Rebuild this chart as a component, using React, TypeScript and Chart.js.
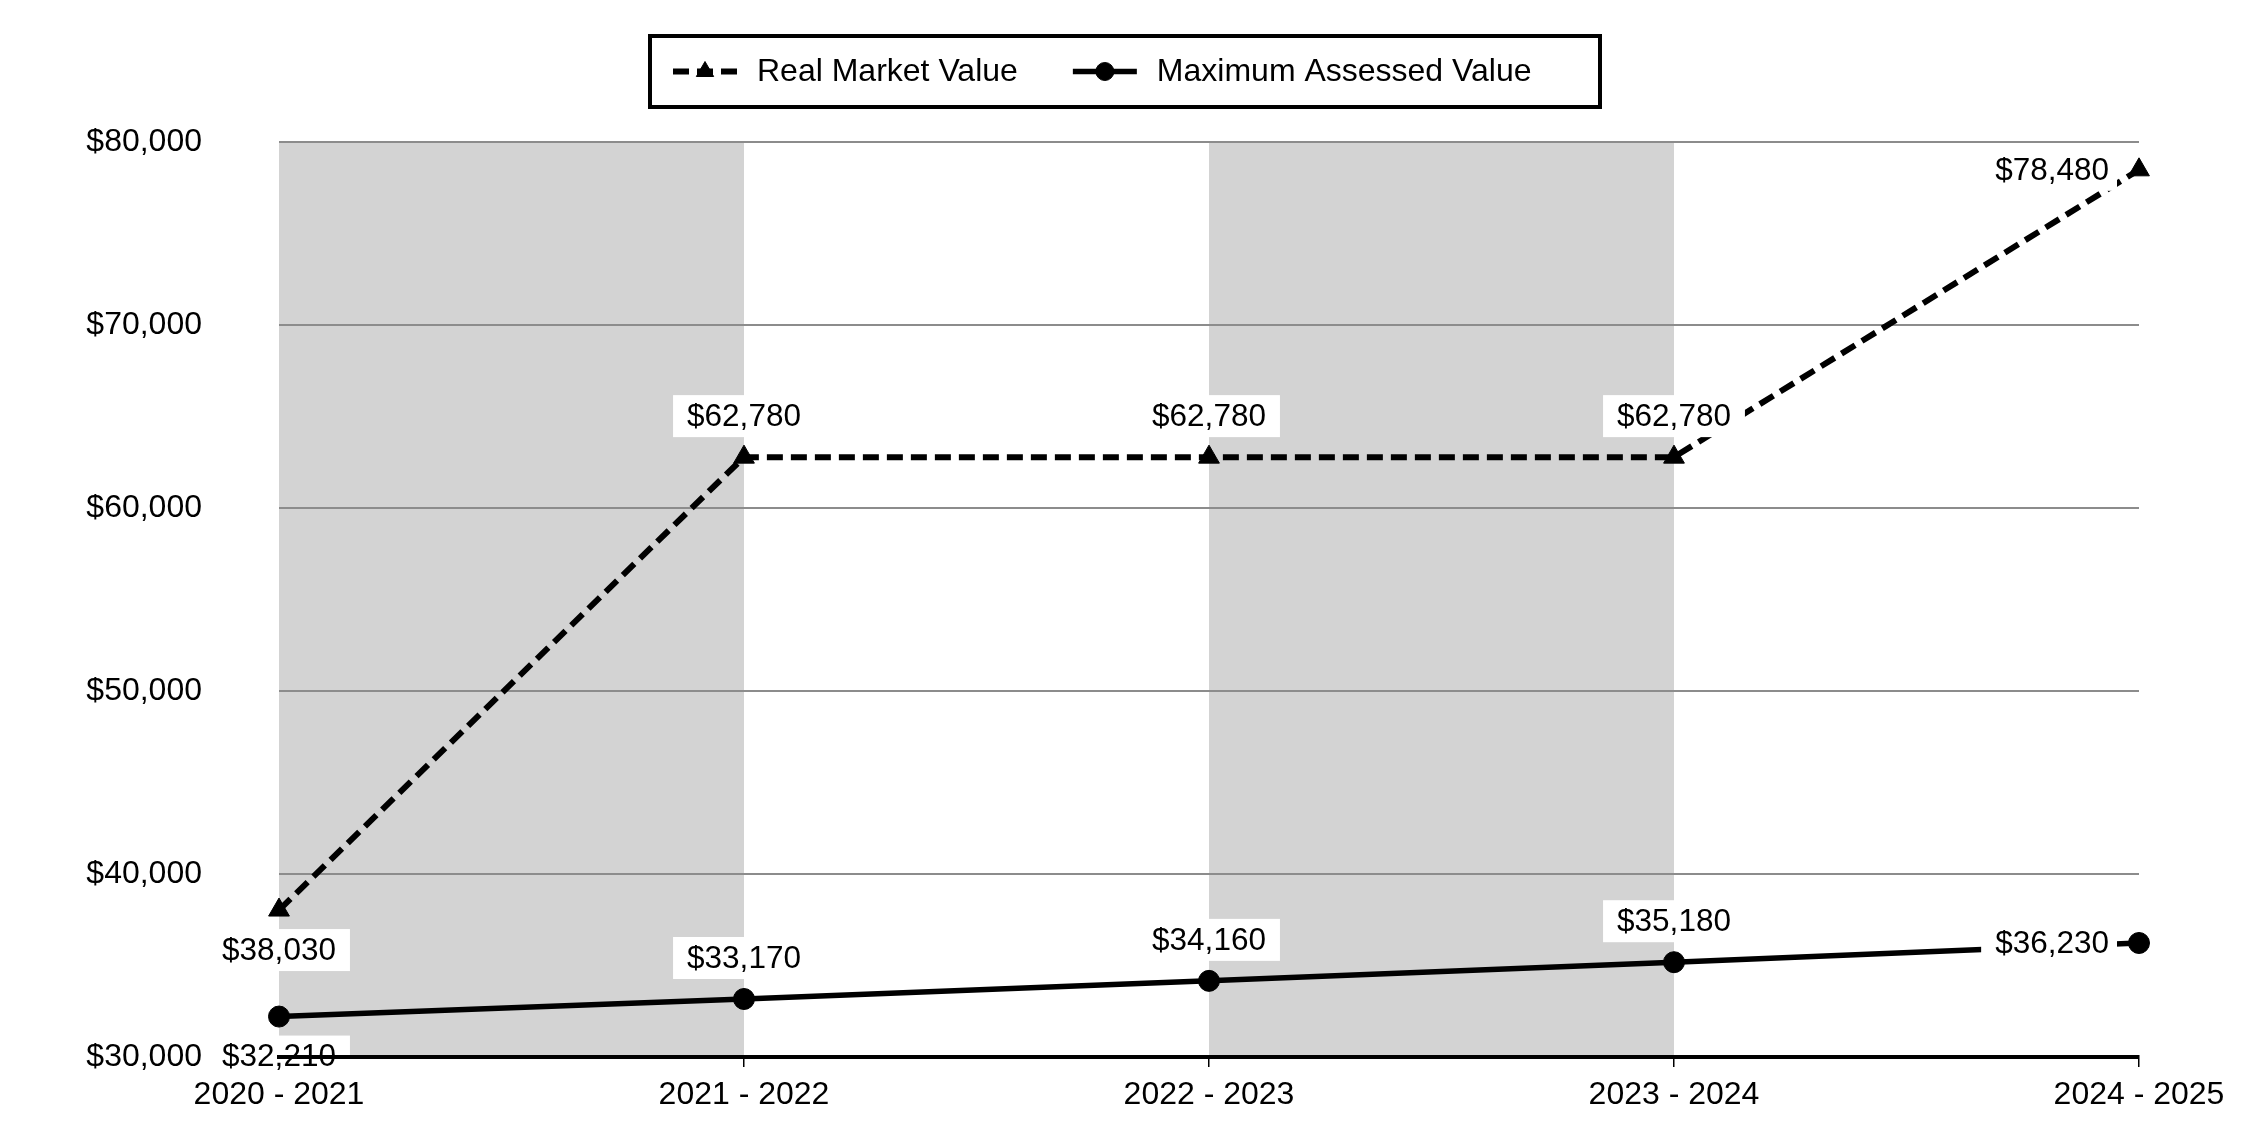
import React, { useEffect, useRef } from 'react';
import { Chart, registerables } from 'chart.js';
import { drawPoint } from 'chart.js/helpers';

Chart.register(...registerables);

const categories = ['2020 - 2021', '2021 - 2022', '2022 - 2023', '2023 - 2024', '2024 - 2025'];
const realMarketValue = [38030, 62780, 62780, 62780, 78480];
const maxAssessedValue = [32210, 33170, 34160, 35180, 36230];
const seriesNames = ['Real Market Value', 'Maximum Assessed Value'];
const yTicks = [30000, 40000, 50000, 60000, 70000, 80000];

const FONT = '"Liberation Sans", Arial, sans-serif';
const FONT_SIZE = 32;
const LABEL_SIZE = 31.5;
const fmt = (v: number) => '$' + v.toLocaleString('en-US');

const bandsPlugin = {
  id: 'bands',
  beforeDraw(chart: any) {
    const { ctx, chartArea, scales } = chart;
    const x = scales.x;
    ctx.save();
    ctx.fillStyle = '#d3d3d3';
    for (let i = 0; i + 1 < categories.length; i += 2) {
      const x0 = x.getPixelForValue(i);
      const x1 = x.getPixelForValue(i + 1);
      ctx.fillRect(x0, chartArea.top, x1 - x0, chartArea.bottom - chartArea.top);
    }
    ctx.restore();
  },
};

const labelsPlugin = {
  id: 'valueLabels',
  afterDatasetsDraw(chart: any) {
    const ctx = chart.ctx;
    ctx.save();
    ctx.font = `${LABEL_SIZE}px ${FONT}`;
    ctx.textBaseline = 'middle';
    chart.data.datasets.forEach((ds: any, di: number) => {
      const meta = chart.getDatasetMeta(di);
      const n = meta.data.length;
      meta.data.forEach((pt: any, i: number) => {
        const text = fmt(ds.data[i]);
        const tw = ctx.measureText(text).width;
        const h = 42;
        let left: number;
        let right: number;
        let tx: number;
        let cy: number;
        if (i === n - 1) {
          const tRight = pt.x - 30;
          tx = tRight - tw / 2;
          left = tRight - tw - 14;
          right = tRight + 8;
          cy = pt.y;
        } else {
          tx = pt.x;
          left = pt.x - tw / 2 - 14;
          right = pt.x + tw / 2 + 14;
          cy = i === 0 ? pt.y + 40 : pt.y - 41;
        }
        ctx.fillStyle = '#ffffff';
        ctx.fillRect(left, cy - h / 2, right - left, h);
        ctx.fillStyle = '#000000';
        ctx.textAlign = 'center';
        ctx.fillText(text, tx, cy + 1);
      });
    });
    ctx.restore();
  },
};

const legendPlugin = {
  id: 'boxedLegend',
  afterDraw(chart: any) {
    const ctx = chart.ctx;
    ctx.save();
    ctx.font = `${FONT_SIZE}px ${FONT}`;
    const sampleW = 64;
    const gapText = 20;
    const itemGap = 55;
    const boxW = 950;
    const boxLeft = chart.width / 2 - boxW / 2;
    const boxTop = 36;
    const boxH = 71;
    ctx.fillStyle = '#ffffff';
    ctx.fillRect(boxLeft, boxTop, boxW, boxH);
    ctx.strokeStyle = '#000000';
    ctx.lineWidth = 4;
    ctx.strokeRect(boxLeft, boxTop, boxW, boxH);
    const cy = boxTop + boxH / 2;
    let x = boxLeft + 23;
    chart.data.datasets.forEach((ds: any) => {
      const tw = ctx.measureText(ds.label).width;
      ctx.beginPath();
      ctx.setLineDash(ds.borderDash || []);
      ctx.lineWidth = ds.borderWidth;
      ctx.strokeStyle = ds.borderColor;
      ctx.moveTo(x, cy);
      ctx.lineTo(x + sampleW, cy);
      ctx.stroke();
      ctx.setLineDash([]);
      ctx.fillStyle = '#000000';
      ctx.strokeStyle = '#000000';
      ctx.lineWidth = 1;
      drawPoint(
        ctx,
        { pointStyle: ds.pointStyle, radius: ds.pointStyle === 'triangle' ? 10 : 9, rotation: 0, borderWidth: 1 } as any,
        x + sampleW / 2,
        cy
      );
      ctx.fillStyle = '#000000';
      ctx.textAlign = 'left';
      ctx.textBaseline = 'middle';
      ctx.fillText(ds.label, x + sampleW + gapText, cy + 1);
      x += sampleW + gapText + tw + itemGap;
    });
    ctx.restore();
  },
};

export default function App() {
  const ref = useRef<HTMLCanvasElement | null>(null);

  useEffect(() => {
    if (!ref.current) return;
    const chart = new Chart(ref.current, {
      type: 'line',
      data: {
        labels: categories,
        datasets: [
          {
            label: seriesNames[0],
            data: realMarketValue,
            borderColor: '#000000',
            backgroundColor: '#000000',
            borderWidth: 6,
            borderDash: [16, 8],
            pointStyle: 'triangle',
            pointRadius: 12,
            pointBackgroundColor: '#000000',
            pointBorderColor: '#000000',
            pointBorderWidth: 1,
            tension: 0,
            clip: false as any,
          },
          {
            label: seriesNames[1],
            data: maxAssessedValue,
            borderColor: '#000000',
            backgroundColor: '#000000',
            borderWidth: 5.5,
            pointStyle: 'circle',
            pointRadius: 10.5,
            pointBackgroundColor: '#000000',
            pointBorderColor: '#000000',
            pointBorderWidth: 1,
            tension: 0,
            clip: false as any,
          },
        ],
      },
      options: {
        animation: false,
        responsive: true,
        maintainAspectRatio: false,
        layout: { padding: { top: 142, right: 111, bottom: 0, left: 0 } },
        plugins: {
          legend: { display: false },
          tooltip: { enabled: false },
        },
        scales: {
          x: {
            type: 'category',
            offset: false,
            grid: {
              display: true,
              drawOnChartArea: false,
              drawTicks: true,
              tickLength: 10,
              color: '#000000',
              lineWidth: 1.5,
            },
            border: { display: true, color: '#000000', width: 4, z: 1 },
            ticks: {
              color: '#000000',
              font: { family: FONT, size: FONT_SIZE },
              padding: 9,
              maxRotation: 0,
              autoSkip: false,
            },
            afterFit: (scale: any) => {
              scale.height = scale.chart.height - 1057;
            },
          },
          y: {
            min: yTicks[0],
            max: yTicks[yTicks.length - 1],
            grid: {
              color: '#8c8c8c',
              lineWidth: 2,
              drawTicks: true,
              tickLength: 77,
              tickColor: 'rgba(0,0,0,0)',
            },
            border: { display: false },
            ticks: {
              color: '#000000',
              font: { family: FONT, size: FONT_SIZE },
              padding: 0,
              callback: (v: any) => fmt(Number(v)),
            },
            afterBuildTicks: (scale: any) => {
              scale.ticks = yTicks.map((v) => ({ value: v }));
            },
            afterFit: (scale: any) => {
              scale.width = 279;
            },
          },
        },
      },
      plugins: [bandsPlugin, labelsPlugin, legendPlugin],
    });
    return () => chart.destroy();
  }, []);

  return (
    <div style={{ position: 'fixed', left: 0, top: 0, width: '2250px', height: '1140px', background: '#ffffff' }}>
      <canvas ref={ref} />
    </div>
  );
}
